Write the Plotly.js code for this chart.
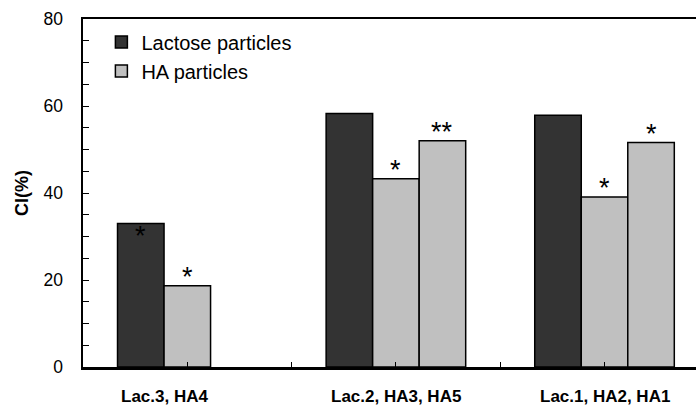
<!DOCTYPE html>
<html>
<head>
<meta charset="utf-8">
<script src="https://cdn.plot.ly/plotly-3.0.1.min.js"></script>
<style>html,body{margin:0;padding:0;background:#fff;}#chart{width:696px;height:407px;}</style>
</head>
<body>
<div id="chart"></div>
<script>
// ---- data ----
const groupPos = [1, 3, 5];
const groupLabels = ['Lac.3, HA4', 'Lac.2, HA3, HA5', 'Lac.1, HA2, HA1'];
const lactoseValues = [33.0, 58.3, 57.9];
const haValuesA = [18.7, 43.3, 39.1];
const haValuesB = [null, 52.0, 51.6];
const lactoseStars = ['*', '', ''];
const haStarsA = ['*', '*', '*'];
const haStarsB = ['', '**', '*'];
const seriesNames = ['Lactose particles', 'HA particles'];

const DARK = '#333333', LIGHT = '#c0c0c0';
const FONT = 'Liberation Sans, Arial, sans-serif';

const traces = [
  {type:'bar', name:seriesNames[0], x:groupPos, y:lactoseValues, offsetgroup:'a',
   marker:{color:DARK, line:{color:'#000', width:1.5}}},
  {type:'bar', name:seriesNames[1], x:groupPos, y:haValuesA, offsetgroup:'b',
   marker:{color:LIGHT, line:{color:'#000', width:1.5}}},
  {type:'bar', name:seriesNames[1], x:groupPos, y:haValuesB, offsetgroup:'c', showlegend:false,
   marker:{color:LIGHT, line:{color:'#000', width:1.5}}}
];

const BARGAP = 0.331;
const BARW = 2 * (1 - BARGAP) / 3;
const annotations = [];
function addStars(stars, values, slot, inside) {
  stars.forEach((s, i) => {
    if (!s || values[i] == null) return;
    annotations.push({
      x: groupPos[i] + (slot - 1) * BARW, y: values[i], xref:'x', yref:'y',
      text: s, showarrow:false,
      yanchor: inside ? 'top' : 'bottom', yshift: inside ? 4 : -8,
      font:{family:FONT, size:27, color:'#000'}
    });
  });
}
addStars(lactoseStars, lactoseValues, 0, true);
addStars(haStarsA, haValuesA, 1, false);
addStars(haStarsB, haValuesB, 2, false);

// category labels under the axis (group 1's label sits under its two bars)
const labelPos = [groupPos[0] - BARW / 2, groupPos[1], groupPos[2]];
groupLabels.forEach((t, i) => {
  annotations.push({
    x: labelPos[i], y: 0, xref:'x', yref:'y', text: t, showarrow:false,
    yanchor:'top', yshift:-18,
    font:{family:FONT, size:17, color:'#000', weight:'bold'}
  });
});

const layout = {
  width:696, height:407,
  margin:{l:83, r:0, t:19, b:40},
  paper_bgcolor:'#fff', plot_bgcolor:'#fff',
  barmode:'group', bargap:BARGAP, bargroupgap:0,
  font:{family:FONT, color:'#000'},
  showlegend:true,
  legend:{x:0.03, y:0.99, xanchor:'left', yanchor:'top', bgcolor:'rgba(0,0,0,0)',
          font:{family:FONT, size:20, color:'#000'}, itemwidth:30, tracegroupgap:0},
  xaxis:{
    range:[0, 5.877], showgrid:false, zeroline:false,
    showline:true, linecolor:'#000', linewidth:2.5, mirror:true,
    tickmode:'linear', tick0:0, dtick:1, ticks:'inside', ticklen:5, tickcolor:'#000', tickwidth:1,
    showticklabels:false
  },
  yaxis:{
    range:[0, 80], showgrid:false, zeroline:false,
    showline:true, linecolor:'#000', linewidth:2.5,
    tickmode:'linear', tick0:0, dtick:20, ticks:'inside', ticklen:6, tickcolor:'#000', tickwidth:1,
    ticklabelstandoff:14,
    tickfont:{family:FONT, size:17.5, color:'#000'},
    minor:{dtick:5, ticks:'inside', ticklen:6, tickcolor:'#000', tickwidth:1},
    title:{text:'CI(%)', font:{family:FONT, size:18, color:'#000', weight:'bold'}, standoff:10}
  },
  annotations: annotations
};

Plotly.newPlot('chart', traces, layout, {staticPlot:true, displayModeBar:false});
</script>
</body>
</html>
